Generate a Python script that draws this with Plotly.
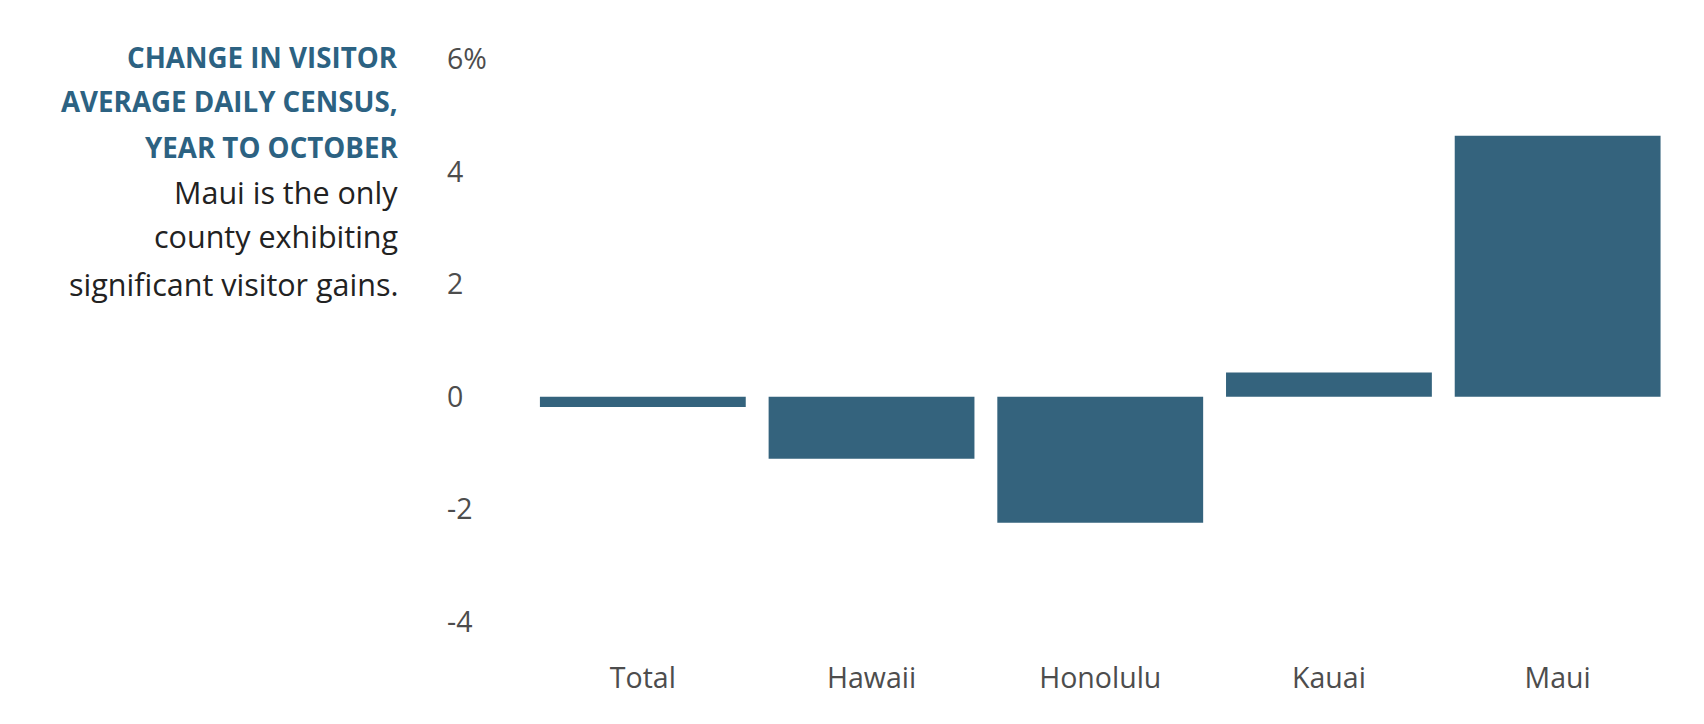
import plotly.graph_objects as go

# ---- data ----
categories = ["Total", "Hawaii", "Honolulu", "Kauai", "Maui"]
change_pct = [-0.18, -1.10, -2.24, 0.43, 4.64]
y_tick_vals = [-4, -2, 0, 2, 4, 6]
y_tick_text = ["-4", "-2", "0", "2", "4", "6%"]
title_lines = ["CHANGE IN VISITOR", "AVERAGE DAILY CENSUS,", "YEAR TO OCTOBER"]
subtitle_lines = ["Maui is the only", "county exhibiting", "significant visitor gains."]

# ---- layout geometry (pixels) ----
W, H = 1704, 724
plot_left, plot_right = 444, 1672.5
unit_px = 56.29
zero_px = 396.9
y_lo, y_hi = -4.5, 6.5
plot_top = zero_px - y_hi * unit_px
plot_bottom = zero_px - y_lo * unit_px
cat_w = 228.75
x_lo = -0.5 - (528.5 - plot_left) / cat_w

BAR = "#34637d"
TITLE = "#2c6282"
TEXT = "#222222"
TICK = "#4d4d4d"
FONT = "Open Sans"

fig = go.Figure(go.Bar(
    x=categories, y=change_pct,
    marker=dict(color=BAR, line=dict(width=0)),
    hoverinfo="x+y",
))

def px_to_paper_x(px):
    return (px - plot_left) / (plot_right - plot_left)

def px_to_paper_y(py):
    return (plot_bottom - py) / (plot_bottom - plot_top)

annotations = []
centers = [57, 101.5, 147, 192.5, 236, 284]
lines = [(t, True) for t in title_lines] + [(t, False) for t in subtitle_lines]
for (txt, bold), cy in zip(lines, centers):
    annotations.append(dict(
        xref="paper", yref="paper",
        x=px_to_paper_x(400), y=px_to_paper_y(cy),
        xanchor="right", yanchor="middle", showarrow=False,
        text=f"<b>{txt}</b>" if bold else txt,
        font=dict(family=FONT, size=27.7 if bold else 30.5, color=TITLE if bold else TEXT),
    ))

fig.update_layout(
    width=W, height=H,
    margin=dict(l=plot_left, r=W - plot_right, t=plot_top, b=H - plot_bottom, pad=0),
    paper_bgcolor="white", plot_bgcolor="white",
    bargap=0.1, showlegend=False,
    font=dict(family=FONT, color=TICK),
    annotations=annotations,
    xaxis=dict(
        range=[x_lo, 4.5], showgrid=False, zeroline=False, showline=False,
        ticks="", tickfont=dict(family=FONT, size=28.5, color=TICK),
        ticklabelstandoff=8,
    ),
    yaxis=dict(
        range=[y_lo, y_hi], tickvals=y_tick_vals, ticktext=y_tick_text,
        showgrid=False, zeroline=False, showline=False, ticks="",
        ticklabelposition="inside",
        tickfont=dict(family=FONT, size=28.5, color=TICK),
    ),
)

fig.write_html(
    "out.html",
    config={"displayModeBar": False},
    post_script="document.body.style.margin='0';document.body.style.padding='0';",
)
